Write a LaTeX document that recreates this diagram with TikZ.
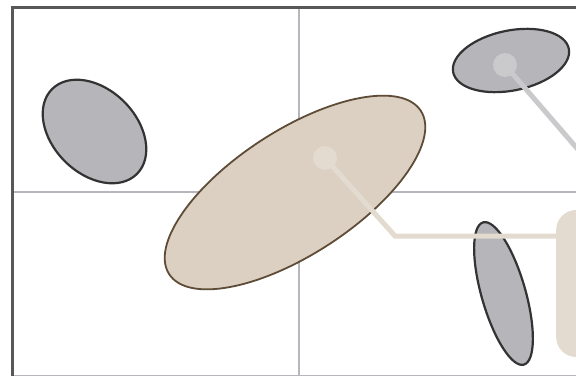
\documentclass[tikz,border=0pt]{standalone}
\usepackage{xcolor}
\definecolor{ink}{RGB}{51,51,51}
\definecolor{frame}{RGB}{88,88,88}
\definecolor{rule}{RGB}{182,182,188}
\definecolor{stone}{RGB}{181,181,186}
\definecolor{pebble}{RGB}{202,202,205}
\definecolor{bark}{RGB}{94,76,54}
\definecolor{sand}{RGB}{219,208,194}
\definecolor{cream}{RGB}{227,219,208}
\usetikzlibrary{shapes.geometric}

\begin{document}
\begin{tikzpicture}[x=1pt,y=1pt,
  blob/.style={ellipse,draw=ink,fill=stone,line width=2.2pt,inner sep=0pt},
  bigblob/.style={ellipse,draw=bark,fill=sand,line width=1.8pt,inner sep=0pt},
  pin/.style={circle,inner sep=0pt,minimum size=24pt},
  lead/.style={line width=5pt},
  axisline/.style={draw=rule,line width=1.6pt},
]
  \clip (0,0) rectangle (576,376);
  \fill[white] (0,0) rectangle (576,376);
  %% quadrants
  \draw[axisline] (299,0) -- (299,368);
  \draw[axisline] (12,184) -- (576,184);
  \draw[rule,line width=0.8pt] (12,0.4) -- (576,0.4);
  \draw[frame,line width=3pt] (12,0) -- (12,368) -- (580,368);
  %% shapes
  \node[blob,minimum width=120pt,minimum height=84pt,rotate=-45] (left) at (94.5,244.5) {};
  \node[blob,minimum width=118pt,minimum height=60pt,rotate=11.5] (upper) at (511,315.5) {};
  \node[blob,minimum width=44pt,minimum height=148pt,rotate=16] (lower) at (503.5,82.5) {};
  \node[bigblob,minimum width=300pt,minimum height=124pt,rotate=33] (main) at (295,183.5) {};
  %% callout
  \node[rectangle,rounded corners=20pt,fill=cream,minimum width=70pt,
        minimum height=147pt,anchor=west] (note) at (556,92.5) {};
  \node[pin,fill=cream] (mainpt) at (325,218) {};
  \node[pin,fill=pebble] (upperpt) at (505,311) {};
  \coordinate (bend) at (395,140);
  \coordinate (away) at (610,189.5);
  \draw[lead,cream] (mainpt.center) -- (bend) -- (bend -| note.west);
  \draw[lead,pebble] (upperpt.center) -- (away);
\end{tikzpicture}
\end{document}
